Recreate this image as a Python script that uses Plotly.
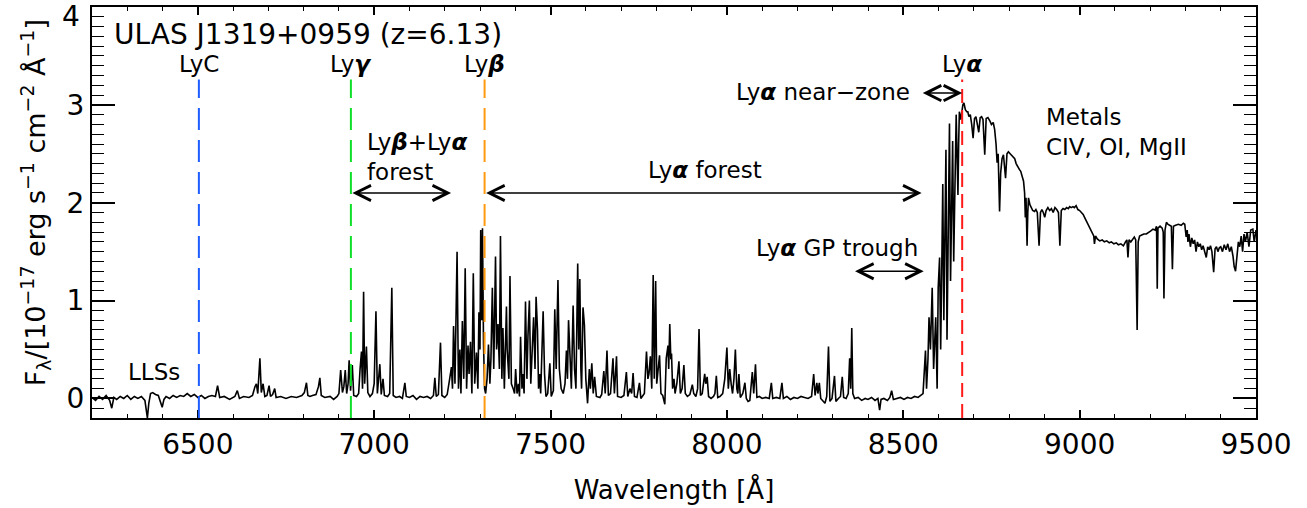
import plotly.graph_objects as go

# ---------------- spectrum data ----------------
# LLS region blueward of Lyman limit
wl_llss = [6200, 6210, 6220, 6230, 6240, 6250, 6256, 6262, 6270, 6280,
           6290, 6300, 6310, 6320, 6330, 6340, 6350, 6354, 6357, 6361,
           6366, 6372, 6380, 6388, 6394, 6399, 6404, 6410, 6420, 6430,
           6440, 6450, 6460, 6470, 6480, 6490, 6500]
fx_llss = [0.01, -0.02, 0.02, -0.01, 0.03, -0.02, -0.10, 0.01, -0.01, 0.02,
           0.00, 0.03, -0.01, 0.02, 0.00, 0.02, -0.02, -0.12, -0.20, -0.05,
           0.05, 0.06, 0.04, 0.03, -0.04, -0.09, -0.01, 0.02, 0.00, 0.03,
           0.01, 0.03, 0.02, 0.05, 0.02, 0.04, 0.01]

# Lyman continuum to Ly-gamma
wl_lyc = [6510, 6520, 6530, 6540, 6550, 6556, 6562, 6575, 6590, 6605,
          6612, 6618, 6630, 6645, 6655, 6662, 6666, 6670, 6676, 6680,
          6685, 6690, 6696, 6702, 6706, 6712, 6718, 6722, 6735, 6750,
          6765, 6780, 6795, 6802, 6808, 6812, 6818, 6825, 6835, 6842,
          6846, 6850, 6860, 6875, 6885, 6895]
fx_lyc = [0.03, 0.00, 0.02, 0.03, 0.02, 0.13, 0.01, 0.02, -0.01, 0.02,
          0.08, 0.00, 0.02, 0.01, 0.03, 0.12, 0.15, 0.05, 0.41, 0.06,
          0.15, 0.02, 0.03, 0.13, 0.02, 0.04, 0.10, 0.01, 0.02, 0.00,
          0.02, 0.01, 0.03, 0.06, 0.16, 0.03, 0.02, 0.03, 0.04, 0.12,
          0.21, 0.03, 0.01, 0.02, -0.01, 0.02]

# Ly-beta + Ly-alpha forest
wl_lyb = [6900, 6905, 6910, 6914, 6918, 6922, 6926, 6929, 6933, 6938,
          6942, 6950, 6956, 6960, 6964, 6967, 6970, 6973, 6978, 6982,
          6988, 6995, 7000, 7005, 7009, 7016, 7020, 7025, 7029, 7038,
          7044, 7050, 7054, 7062, 7072, 7080, 7087, 7091, 7100, 7110,
          7120, 7130, 7140, 7150, 7160, 7168, 7172, 7176, 7182, 7188,
          7192, 7200, 7207, 7214, 7219, 7222, 7225, 7229, 7235, 7239,
          7243, 7246, 7250, 7254, 7258, 7262, 7266, 7269, 7273, 7277,
          7281, 7285, 7290, 7294, 7297, 7300, 7302, 7305, 7307, 7310]
fx_lyb = [0.05, 0.29, 0.06, 0.12, 0.29, 0.05, 0.15, 0.39, 0.08, 0.34,
          0.03, 0.02, 0.05, 0.30, 0.48, 0.10, 1.09, 0.15, 0.53, 0.06,
          0.02, 0.05, 0.15, 0.89, 0.05, 0.35, 0.04, 0.20, 0.03, 0.02,
          0.05, 1.13, 0.03, 0.01, 0.02, 0.00, 0.16, 0.02, 0.01, 0.03,
          -0.01, 0.02, 0.01, 0.02, 0.00, 0.03, 0.21, 0.02, 0.04, 0.57,
          0.03, 0.01, 0.04, 0.20, 0.32, 0.10, 0.74, 0.15, 1.50, 0.10,
          0.50, 0.05, 0.79, 0.20, 1.33, 0.10, 0.54, 0.25, 0.58, 0.05,
          1.28, 0.15, 0.47, 0.10, 0.88, 0.50, 1.72, 0.80, 1.74, 0.55]

# Ly-alpha forest, part 1
wl_lya1 = [7313, 7316, 7320, 7324, 7328, 7331, 7335, 7339, 7344, 7347,
           7351, 7355, 7358, 7362, 7365, 7369, 7375, 7377, 7379, 7382,
           7385, 7389, 7394, 7398, 7401, 7405, 7409, 7412, 7415, 7419,
           7422, 7425, 7429, 7433, 7436, 7440, 7444, 7447, 7452, 7456,
           7459, 7463, 7466, 7469, 7472, 7479, 7483, 7487, 7492, 7498,
           7502, 7508, 7512, 7516, 7521, 7525, 7530, 7536, 7541, 7545,
           7548, 7551, 7555, 7559, 7564, 7568, 7572, 7577, 7580, 7583,
           7586, 7588, 7592, 7596, 7600, 7605, 7610, 7613, 7617, 7621,
           7625, 7630, 7640, 7645, 7651, 7655, 7660, 7664, 7670, 7677,
           7681, 7687, 7690, 7700]
fx_lya1 = [0.10, 0.05, 0.20, 0.55, 0.15, 0.40, 1.13, 0.30, 1.45, 0.50,
           0.76, 0.30, 1.66, 0.20, 0.72, 0.10, 0.94, 0.50, 0.30, 0.20,
           1.25, 0.15, 0.10, 0.05, 0.30, 0.05, 0.15, 0.02, 0.63, 0.10,
           0.25, 0.05, 0.99, 0.20, 0.64, 1.00, 0.15, 0.40, 0.83, 0.30,
           1.04, 0.70, 0.10, 0.25, 0.05, 0.89, 0.25, 0.02, 0.05, 0.36,
           0.02, 0.08, 0.91, 0.30, 1.21, 0.30, 0.10, 0.05, 0.15, 0.49,
           0.20, 0.80, 0.35, 0.10, 0.95, 0.30, 0.10, 1.38, 0.50, 1.22,
           0.30, 0.10, 0.93, 0.75, 0.20, -0.05, 0.30, 0.10, 0.36, 0.05,
           0.22, 0.02, 0.01, 0.04, 0.28, 0.05, 0.49, 0.03, 0.05, 0.41,
           0.05, 0.43, 0.02, 0.01]

# Ly-alpha forest, part 2
wl_lya2 = [7708, 7715, 7719, 7725, 7730, 7734, 7738, 7745, 7752, 7756,
           7762, 7766, 7772, 7776, 7779, 7783, 7787, 7791, 7794, 7798,
           7801, 7805, 7809, 7813, 7818, 7824, 7828, 7833, 7835, 7838,
           7841, 7843, 7846, 7850, 7853, 7858, 7864, 7868, 7873, 7878,
           7882, 7888, 7895, 7902, 7906, 7912, 7917, 7921, 7925, 7930,
           7937, 7940, 7944, 7948, 7955, 7962, 7966, 7970, 7974, 7980,
           7988, 7994, 8000, 8004, 8008, 8012, 8016, 8020, 8024, 8028,
           8031, 8034, 8038, 8045, 8051, 8055, 8060, 8065, 8072, 8076,
           8081, 8085, 8092]
fx_lya2 = [0.03, 0.27, 0.02, 0.10, 0.05, 0.26, 0.02, 0.01, 0.16, 0.00,
           0.03, 0.05, 0.48, 0.20, 0.25, 0.43, 0.10, 1.26, 0.20, 1.20,
           0.15, 0.30, 0.44, 0.05, 0.03, -0.06, 0.41, 0.54, 0.30, 0.76,
           0.40, 0.46, 0.10, 0.20, 0.05, 0.15, 0.38, 0.05, 0.10, 0.34,
           0.05, 0.02, 0.04, 0.14, 0.05, 0.02, 0.10, 0.71, 0.03, 0.05,
           0.25, 0.15, 0.22, 0.02, 0.00, 0.02, 0.05, 0.23, 0.01, 0.02,
           0.05, 0.20, 0.52, 0.10, 0.30, 0.15, 0.05, 0.20, 0.50, 0.10,
           0.05, 0.25, 0.01, 0.05, 0.16, 0.00, -0.03, -0.02, 0.27, 0.05,
           0.35, 0.01, 0.02]

# Gunn-Peterson trough region
wl_gp = [8100, 8110, 8120, 8126, 8130, 8140, 8150, 8156, 8160, 8170,
         8180, 8190, 8200, 8210, 8220, 8230, 8240, 8246, 8250, 8255,
         8258, 8262, 8266, 8272, 8278, 8283, 8288, 8292, 8298, 8305,
         8309, 8316, 8322, 8327, 8331, 8338, 8344, 8348, 8351, 8354,
         8357, 8362, 8372, 8382, 8392, 8400, 8410, 8420, 8428, 8433,
         8437, 8445, 8455, 8462, 8467, 8472, 8482, 8492, 8502, 8512,
         8522, 8532, 8542, 8550, 8556]
fx_gp = [0.00, 0.01, 0.00, 0.16, 0.00, 0.01, 0.00, 0.16, 0.00, 0.02,
         -0.01, 0.01, 0.00, 0.02, 0.01, 0.00, 0.02, 0.25, 0.03, 0.16,
         0.05, 0.16, 0.00, -0.02, -0.05, 0.02, 0.53, -0.03, 0.00, 0.23,
         -0.03, 0.00, 0.02, 0.22, 0.01, 0.00, 0.05, 0.41, 0.10, 0.72,
         0.05, 0.00, 0.01, -0.02, 0.00, -0.01, 0.01, -0.02, 0.00, -0.12,
         -0.01, 0.00, -0.02, 0.01, 0.08, -0.01, 0.00, 0.01, -0.01, 0.01,
         0.00, 0.02, 0.01, 0.03, 0.05]

# Near-zone and Ly-alpha peak
wl_nz = [8563, 8566, 8570, 8573, 8577, 8580, 8582, 8586, 8589, 8592,
         8596, 8599, 8603, 8606, 8609, 8612, 8615, 8618, 8621, 8624,
         8627, 8631, 8634, 8637, 8640, 8643, 8646, 8650, 8653, 8655,
         8657, 8659, 8663, 8666, 8669, 8672, 8676, 8680, 8683, 8686,
         8690, 8694, 8698]
fx_nz = [0.49, 0.10, 0.40, 0.83, 0.50, 0.83, 1.13, 0.30, 0.60, 0.83,
         0.10, 1.13, 1.44, 0.50, 1.30, 2.19, 0.80, 1.90, 2.54, 0.60,
         1.80, 2.81, 1.20, 2.20, 2.63, 1.40, 2.30, 2.90, 2.40, 2.08,
         2.60, 2.93, 2.85, 2.95, 3.00, 3.02, 2.95, 2.93, 2.93, 2.88,
         2.90, 2.80, 2.66]

# Red side continuum, part 1
wl_red1 = [8702, 8706, 8710, 8714, 8718, 8722, 8726, 8731, 8735, 8740,
           8745, 8750, 8755, 8759, 8763, 8766, 8769, 8773, 8776, 8780,
           8784, 8787, 8790, 8794, 8798, 8803, 8808, 8812, 8816, 8820,
           8825, 8829, 8833, 8837, 8841, 8844, 8846, 8848, 8851, 8853,
           8855, 8859, 8863, 8867, 8872, 8876, 8880, 8885, 8889, 8893,
           8897, 8901, 8905, 8910, 8915, 8920, 8925, 8930, 8935, 8940,
           8944, 8948, 8953, 8958, 8963, 8968, 8972, 8976, 8981, 8985,
           8990, 8995, 9000, 9005, 9010, 9014, 9018, 9023, 9027, 9031,
           9035, 9040, 9042, 9045, 9050]
fx_red1 = [2.86, 2.88, 2.80, 2.72, 2.87, 2.88, 2.85, 2.49, 2.86, 2.87,
           2.84, 2.80, 2.82, 2.75, 2.60, 2.41, 2.50, 1.91, 2.30, 2.45,
           2.49, 2.35, 2.25, 2.50, 2.52, 2.50, 2.48, 2.47, 2.45, 2.40,
           2.36, 2.34, 2.32, 2.28, 2.22, 2.10, 1.85, 2.05, 1.56, 1.90,
           2.05, 1.98, 1.95, 1.92, 1.91, 1.93, 1.90, 1.56, 1.90, 1.93,
           1.90, 1.85, 1.92, 1.95, 1.92, 1.94, 1.90, 1.95, 1.93, 1.90,
           1.56, 1.92, 1.94, 1.93, 1.95, 1.94, 1.96, 1.95, 1.96, 1.95,
           1.97, 1.93, 1.92, 1.90, 1.88, 1.85, 1.82, 1.78, 1.75, 1.72,
           1.70, 1.66, 1.58, 1.66, 1.63]

# Red side continuum, part 2
wl_red2 = [9057, 9064, 9070, 9077, 9084, 9090, 9097, 9104, 9110, 9117,
           9124, 9130, 9134, 9137, 9140, 9145, 9150, 9155, 9159, 9163,
           9166, 9170, 9176, 9182, 9189, 9195, 9201, 9208, 9214, 9218,
           9220, 9222, 9228, 9234, 9237, 9239, 9242, 9246, 9250, 9255,
           9260, 9263, 9266, 9272, 9280, 9288, 9294, 9298, 9302, 9305,
           9307, 9310, 9314, 9318, 9322, 9326, 9330, 9334, 9338, 9342,
           9346, 9350, 9355, 9359, 9363, 9367, 9371, 9375, 9380, 9384,
           9388, 9392, 9396, 9400, 9405, 9410, 9415, 9420, 9425, 9430,
           9435, 9438, 9442, 9446, 9450, 9454, 9458, 9462, 9466, 9470,
           9475, 9480, 9485, 9491, 9495, 9500]
fx_red2 = [1.61, 1.62, 1.60, 1.61, 1.59, 1.60, 1.58, 1.59, 1.57, 1.58,
           1.56, 1.60, 1.62, 1.44, 1.62, 1.60, 1.63, 1.65, 1.62, 0.70,
           1.60, 1.66, 1.67, 1.68, 1.68, 1.70, 1.71, 1.73, 1.72, 1.76,
           1.12, 1.74, 1.76, 1.74, 1.70, 1.02, 1.72, 1.80, 1.78, 1.77,
           1.76, 1.32, 1.76, 1.77, 1.78, 1.77, 1.79, 1.78, 1.65, 1.72,
           1.60, 1.68, 1.55, 1.64, 1.58, 1.62, 1.50, 1.60, 1.55, 1.58,
           1.52, 1.56, 1.50, 1.44, 1.55, 1.52, 1.56, 1.50, 1.29, 1.53,
           1.55, 1.50, 1.54, 1.55, 1.50, 1.57, 1.52, 1.58, 1.50, 1.55,
           1.45, 1.35, 1.30, 1.50, 1.60, 1.55, 1.66, 1.50, 1.68, 1.60,
           1.70, 1.55, 1.72, 1.73, 1.60, 1.72]

# Lyman series line positions (observed, z = 6.13)
line_labels = ["LyC", "Ly<b><i>γ</i></b>", "Ly<b><i>β</i></b>", "Ly<b><i>α</i></b>"]
line_wavelengths = [6503, 6934, 7313, 8667]
line_colors = ["#1f5cff", "#11e02b", "#ff9a10", "#ff1a1a"]

x_ticks = [6500, 7000, 7500, 8000, 8500, 9000, 9500]
y_ticks = [0, 1, 2, 3, 4]

wavelength = (wl_llss + wl_lyc + wl_lyb + wl_lya1 + wl_lya2 + wl_gp
              + wl_nz + wl_red1 + wl_red2)
flux = (fx_llss + fx_lyc + fx_lyb + fx_lya1 + fx_lya2 + fx_gp
        + fx_nz + fx_red1 + fx_red2)
assert len(wavelength) == len(flux)

FONT = "DejaVu Sans"
fig = go.Figure()
fig.add_trace(go.Scatter(x=wavelength, y=flux, mode="lines",
                         line=dict(color="black", width=1.6),
                         hoverinfo="skip", showlegend=False))

dashes = ["22px,10px", "22px,10px", "22px,10px", "14px,7px"]
for lab, lam, col, dsh in zip(line_labels, line_wavelengths, line_colors, dashes):
    fig.add_shape(type="line", x0=lam, x1=lam, y0=-0.2, y1=3.26, xref="x", yref="y",
                  line=dict(color=col, width=2, dash=dsh), layer="above")
    fig.add_annotation(x=lam, y=3.42, text=lab, showarrow=False,
                       font=dict(family=FONT, size=23, color="black"),
                       xanchor="center", yanchor="middle")

texts = [
    (6256, 3.72, "ULAS J1319+0959 (z=6.13)", "left", 28),
    (6973, 2.47, "Ly<b><i>β</i></b>+Ly<b><i>α</i></b><br>forest", "left", 23),
    (7937, 2.33, "Ly<b><i>α</i></b> forest", "center", 23),
    (8524, 3.13, "Ly<b><i>α</i></b> near−zone", "right", 23),
    (8311, 1.54, "Ly<b><i>α</i></b> GP trough", "center", 23),
    (8900, 2.725, "Metals<br>CIV, OI, MgII", "left", 23),
    (6375, 0.27, "LLSs", "center", 23),
]
for x, y, t, anc, sz in texts:
    fig.add_annotation(x=x, y=y, text=t, showarrow=False, align="left",
                       font=dict(family=FONT, size=sz, color="black"),
                       xanchor=anc, yanchor="middle")

arrows = [  # (start, end, flux level)
    (6934, 7218, 2.10),
    (7313, 8552, 2.10),
    (8551, 8667, 3.12),
    (8359, 8558, 1.30),
]
for x0, x1, yy in arrows:
    fig.add_annotation(x=x1, y=yy, ax=x0, ay=yy, axref="x", ayref="y",
                       xref="x", yref="y", text="", showarrow=True,
                       arrowside="end+start", arrowhead=5, startarrowhead=5,
                       arrowsize=2.0, startarrowsize=2.0, arrowwidth=1.5,
                       arrowcolor="black", standoff=0, startstandoff=0)

# top "4" label (kept inside the canvas as in the original)
fig.add_annotation(xref="paper", yref="paper", x=-0.009, y=0.978, text="4",
                   showarrow=False, xanchor="right", yanchor="middle",
                   font=dict(family=FONT, size=28, color="black"))

# y-axis title
fig.add_annotation(xref="paper", yref="paper", x=-0.049, y=0.525,
                   text="F<sub>λ</sub>/[10<sup>−17</sup> erg s<sup>−1</sup> cm<sup>−2</sup> Å<sup>−1</sup>]",
                   textangle=-90, showarrow=False, xanchor="center", yanchor="middle",
                   font=dict(family=FONT, size=27, color="black"))

fig.update_layout(
    width=1307, height=508,
    margin=dict(l=92, r=51, t=5, b=90),
    paper_bgcolor="white", plot_bgcolor="white",
    font=dict(family=FONT, size=28, color="black"),
    xaxis=dict(range=[6200, 9500], tickvals=x_ticks,
               ticks="inside", ticklen=8, tickwidth=1.5, tickcolor="black",
               mirror="allticks", showline=True, linecolor="black", linewidth=2,
               showgrid=False, zeroline=False,
               minor=dict(dtick=100, tick0=0, ticks="inside", ticklen=4,
                          tickwidth=1.2, tickcolor="black", showgrid=False),
               tickfont=dict(family=FONT, size=28),
               title=dict(text="Wavelength [Å]", font=dict(family=FONT, size=26),
                          standoff=21)),
    yaxis=dict(range=[-0.2, 4.0], tickvals=y_ticks, ticktext=["0", "1", "2", "3", ""],
               ticks="inside", ticklen=23, tickwidth=1.5, tickcolor="black",
               mirror="allticks", showline=True, linecolor="black", linewidth=2,
               showgrid=False, zeroline=False,
               minor=dict(dtick=0.1, tick0=0, ticks="inside", ticklen=12,
                          tickwidth=1.2, tickcolor="black", showgrid=False),
               tickfont=dict(family=FONT, size=28)),
)

fig.write_html("out.html", config={"displayModeBar": False},
               post_script="document.body.style.margin='0px';")
